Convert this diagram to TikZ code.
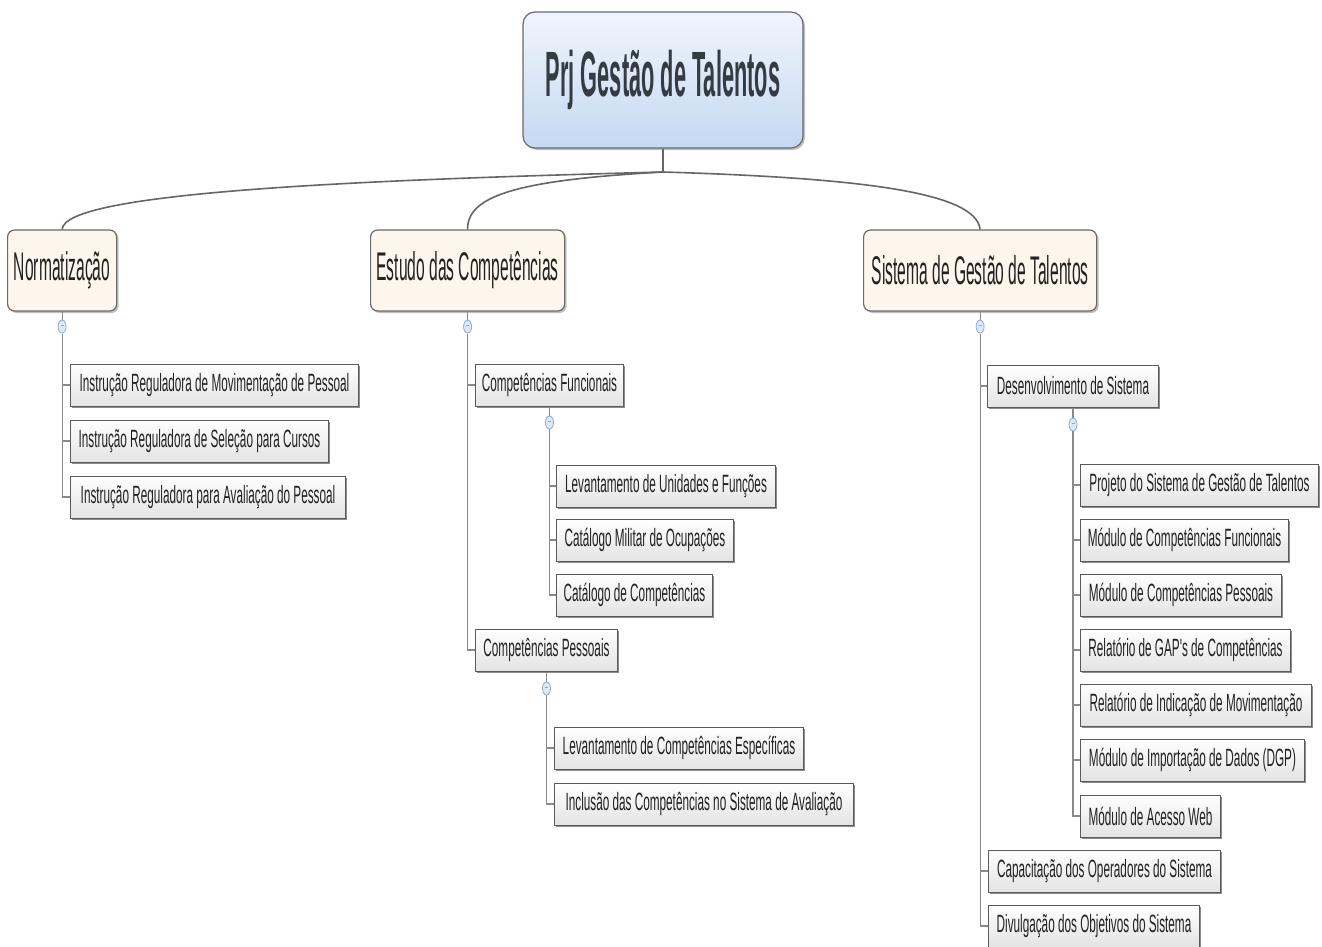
\documentclass[tikz,border=0pt]{standalone}
\usepackage{fontspec}
\setmainfont{Liberation Sans}
\newfontfamily\rootfont[FakeStretch=0.34]{Liberation Sans}
\newfontfamily\lonefont[FakeStretch=0.39]{Liberation Sans}
\newfontfamily\leaffont[FakeStretch=0.47]{Liberation Sans}
\usetikzlibrary{shapes.geometric,shadows}
\definecolor{bord}{HTML}{6A6A6A}
\definecolor{leafbord}{HTML}{5A5A5A}
\definecolor{roottop}{HTML}{F0F5FC}
\definecolor{rootbot}{HTML}{C4D9F3}
\definecolor{cream}{HTML}{FDF6EC}
\definecolor{leafbot}{HTML}{E3E3E3}
\definecolor{txt}{HTML}{222222}
\definecolor{roottxt}{HTML}{353B42}
\definecolor{treeline}{HTML}{8A8A8A}
\definecolor{branchline}{HTML}{666666}
\definecolor{collfill}{HTML}{DDE8F8}
\definecolor{collbord}{HTML}{8FAAD6}
\tikzset{
  rootbox/.style={draw=bord, line width=1.2pt, rounded corners=12pt, top color=roottop, bottom color=rootbot,
    minimum width=280pt, minimum height=136pt, inner sep=0pt, text=roottxt,
    font=\rootfont\bfseries\fontsize{64}{70}\selectfont,
    drop shadow={shadow xshift=2pt, shadow yshift=-2pt, fill=black, opacity=0.25}},
  lonebox/.style={draw=bord, line width=1.2pt, rounded corners=7pt, fill=cream,
    minimum height=81pt, inner sep=0pt, text=txt, anchor=west,
    font=\lonefont\fontsize{40}{44}\selectfont,
    drop shadow={shadow xshift=2pt, shadow yshift=-2pt, fill=black, opacity=0.25}},
  leafbox/.style={draw=leafbord, line width=1pt, top color=white, bottom color=leafbot,
    minimum height=42pt, inner sep=0pt, text=txt, anchor=west,
    font=\leaffont\fontsize{25}{28}\selectfont,
    drop shadow={shadow xshift=1.8pt, shadow yshift=-2pt, fill=black, opacity=0.45}},
  coll/.style={ellipse, draw=collbord, line width=0.8pt, fill=collfill, minimum width=8pt, minimum height=13pt, inner sep=0pt},
  tree/.style={draw=treeline, line width=1.2pt},
  branch/.style={draw=branchline, line width=1.6pt},
}
\newcommand{\collmark}{\textcolor{collbord}{\rule[2pt]{3pt}{0.8pt}}}
\begin{document}
\begin{tikzpicture}[x=1pt,y=-1pt]
\useasboundingbox[fill=white] (0,0) rectangle (1322,947);

% root
\node[rootbox] (root) at (663,80) {Prj Gestão de Talentos};
\coordinate (j) at (663,172);

% level one
\node[lonebox, minimum width=109pt] (norm) at (7,270.5) {Normatização};
\node[lonebox, minimum width=194pt] (estudo) at (370,270.5) {Estudo das Competências};
\node[lonebox, minimum width=233pt] (sist) at (863,270.5) {Sistema de Gestão de Talentos};

\draw[branch] (root.south) -- (j);
\draw[branch] (j) .. controls (360,180) and (64,192) .. (norm.north);
\draw[branch] (j) .. controls (520,180) and (467,195) .. (estudo.north);
\draw[branch] (j) .. controls (860,178) and (976,192) .. (sist.north);

% collapse marks
\node[coll] (cnorm) at ([yshift=-15pt]norm.south) {\collmark};
\node[coll] (cest) at ([yshift=-15pt]estudo.south) {\collmark};
\node[coll] (csist) at ([yshift=-15pt]sist.south) {\collmark};

% Normatizacao leaves
\node[leafbox, minimum width=288pt] (na) at (70,385) {Instrução Reguladora de Movimentação de Pessoal};
\node[leafbox, minimum width=258pt] (nb) at (70,441) {Instrução Reguladora de Seleção para Cursos};
\node[leafbox, minimum width=275pt] (nc) at (70,497) {Instrução Reguladora para Avaliação do Pessoal};

% Estudo
\node[leafbox, minimum width=148pt] (cf) at (475,385) {Competências Funcionais};
\node[coll] (ccf) at ([yshift=-16pt]cf.south) {\collmark};
\node[leafbox, minimum width=219pt] (cfa) at (556,486) {Levantamento de Unidades e Funções};
\node[leafbox, minimum width=177pt] (cfb) at (556,540) {Catálogo Militar de Ocupações};
\node[leafbox, minimum width=156pt] (cfc) at (556,595) {Catálogo de Competências};
\node[leafbox, minimum width=142pt] (cp) at (475,650) {Competências Pessoais};
\node[coll] (ccp) at ([yshift=-17pt]cp.south) {\collmark};
\node[leafbox, minimum width=249pt] (cpa) at (554,748) {Levantamento de Competências Específicas};
\node[leafbox, minimum width=299pt] (cpb) at (554,804) {Inclusão das Competências no Sistema de Avaliação};

% Sistema
\node[leafbox, minimum width=171pt] (ds) at (987,386) {Desenvolvimento de Sistema};
\node[coll] (cds) at ([yshift=-17pt]ds.south) {\collmark};
\node[leafbox, minimum width=238pt] (dsa) at (1080,485) {Projeto do Sistema de Gestão de Talentos};
\node[leafbox, minimum width=208pt] (dsb) at (1080,540) {Módulo de Competências Funcionais};
\node[leafbox, minimum width=201pt] (dsc) at (1080,595) {Módulo de Competências Pessoais};
\node[leafbox, minimum width=210pt] (dsd) at (1080,650) {Relatório de GAP's de Competências};
\node[leafbox, minimum width=231pt] (dse) at (1080,705) {Relatório de Indicação de Movimentação};
\node[leafbox, minimum width=224pt] (dsf) at (1080,760) {Módulo de Importação de Dados (DGP)};
\node[leafbox, minimum width=140pt] (dsg) at (1080,816) {Módulo de Acesso Web};
\node[leafbox, minimum width=232pt] (sc) at (988,871) {Capacitação dos Operadores do Sistema};
\node[leafbox, minimum width=211pt] (sd) at (988,926) {Divulgação dos Objetivos do Sistema};

% tree connectors
\draw[tree] (norm.south) -- (cnorm.north);
\draw[tree] (estudo.south) -- (cest.north);
\draw[tree] (sist.south) -- (csist.north);
\draw[tree] (cf.south) -- (ccf.north);
\draw[tree] (cp.south) -- (ccp.north);
\draw[tree] (ds.south) -- (cds.north);
\foreach \c in {na,nb,nc} \draw[tree] (cnorm.south) |- (\c.west);
\foreach \c in {cf,cp} \draw[tree] (cest.south) |- (\c.west);
\foreach \c in {cfa,cfb,cfc} \draw[tree] (ccf.south) |- (\c.west);
\foreach \c in {cpa,cpb} \draw[tree] (ccp.south) |- (\c.west);
\foreach \c in {ds,sc,sd} \draw[tree] (csist.south) |- (\c.west);
\foreach \c in {dsa,dsb,dsc,dsd,dse,dsf,dsg} \draw[tree] (cds.south) |- (\c.west);
\end{tikzpicture}
\end{document}
